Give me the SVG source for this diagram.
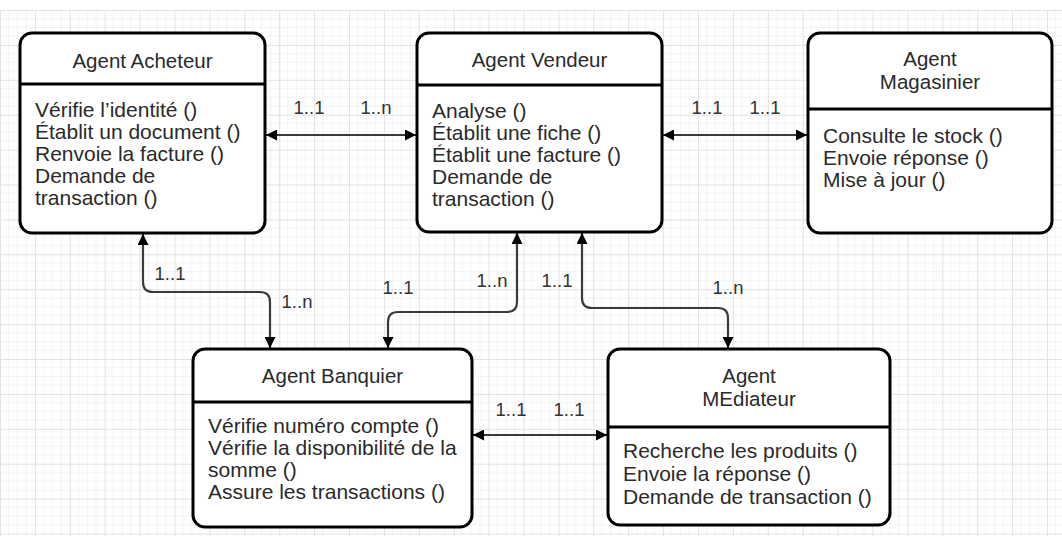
<svg xmlns="http://www.w3.org/2000/svg" width="1062" height="536" viewBox="0 0 1062 536">
<style>
.box{fill:#fff;stroke:#000;stroke-width:3}
.sep{stroke:#000;stroke-width:3}
.t{font-family:"Liberation Sans",Arial,sans-serif;font-size:21px;fill:#2a2a2a}
.tc{text-anchor:middle;font-size:20.5px}
.lbl{font-family:"Liberation Sans",Arial,sans-serif;font-size:18.5px;fill:#333;text-anchor:middle}
.conn{fill:none;stroke:#3a3a3a;stroke-width:2.2;marker-start:url(#arr);marker-end:url(#arr)}
</style>
<defs>
<pattern id="grid" width="34.9" height="34.9" patternUnits="userSpaceOnUse" x="0" y="10">
<path d="M8.7,0V34.9M17.45,0V34.9M26.2,0V34.9M0,8.7H34.9M0,17.45H34.9M0,26.2H34.9" stroke="#f3f3f5" stroke-width="1" fill="none"/>
<path d="M0.5,0V34.9M0,0.5H34.9" stroke="#e2e2e6" stroke-width="1" fill="none"/>
</pattern>
<marker id="arr" viewBox="0 0 10 10" refX="10" refY="5" markerWidth="11" markerHeight="11" markerUnits="userSpaceOnUse" orient="auto-start-reverse">
<path d="M0,0L10,5L0,10z" fill="#000"/>
</marker>
</defs>
<rect width="1062" height="536" fill="#fff"/>
<rect x="0" y="10" width="1062" height="526" fill="url(#grid)"/>

<g id="connectors">
<path class="conn" d="M266,135H416"/>
<path class="conn" d="M663,135H807"/>
<path class="conn" d="M143,234V282Q143,292 153,292H260Q270,292 270,302V348"/>
<path class="conn" d="M517,233V302Q517,312 507,312H398Q388,312 388,322V348"/>
<path class="conn" d="M582,233V298Q582,308 592,308H718Q728,308 728,318V348"/>
<path class="conn" d="M473,435H607"/>
<text class="lbl" x="309" y="114">1..1</text>
<text class="lbl" x="376" y="114">1..n</text>
<text class="lbl" x="707" y="114">1..1</text>
<text class="lbl" x="765" y="114">1..1</text>
<text class="lbl" x="170" y="280">1..1</text>
<text class="lbl" x="297" y="308">1..n</text>
<text class="lbl" x="398" y="294">1..1</text>
<text class="lbl" x="492" y="287">1..n</text>
<text class="lbl" x="557" y="287">1..1</text>
<text class="lbl" x="728" y="294">1..n</text>
<text class="lbl" x="511" y="416">1..1</text>
<text class="lbl" x="569" y="416">1..1</text>
</g>

<g id="acheteur">
<rect class="box" x="20" y="33" width="245" height="200" rx="12"/>
<line class="sep" x1="20" y1="84" x2="265" y2="84"/>
<text class="t tc" x="142.5" y="68">Agent Acheteur</text>
<text class="t" x="35" y="117">Vérifie l’identité ()</text>
<text class="t" x="35" y="139">Établit un document ()</text>
<text class="t" x="35" y="161">Renvoie la facture ()</text>
<text class="t" x="35" y="183">Demande de</text>
<text class="t" x="35" y="205">transaction ()</text>
</g>

<g id="vendeur">
<rect class="box" x="417" y="33" width="245" height="199" rx="12"/>
<line class="sep" x1="417" y1="85" x2="662" y2="85"/>
<text class="t tc" x="539.5" y="67">Agent Vendeur</text>
<text class="t" x="432" y="118">Analyse ()</text>
<text class="t" x="432" y="140">Établit une fiche ()</text>
<text class="t" x="432" y="162">Établit une facture ()</text>
<text class="t" x="432" y="184">Demande de</text>
<text class="t" x="432" y="206">transaction ()</text>
</g>

<g id="magasinier">
<rect class="box" x="808" y="33" width="244" height="200" rx="12"/>
<line class="sep" x1="808" y1="109" x2="1052" y2="109"/>
<text class="t tc" x="930" y="66">Agent</text>
<text class="t tc" x="930" y="89">Magasinier</text>
<text class="t" x="823" y="143">Consulte le stock ()</text>
<text class="t" x="823" y="165">Envoie réponse ()</text>
<text class="t" x="823" y="187">Mise à jour ()</text>
</g>

<g id="banquier">
<rect class="box" x="193" y="349" width="279" height="178" rx="12"/>
<line class="sep" x1="193" y1="402" x2="472" y2="402"/>
<text class="t tc" x="332.5" y="383">Agent Banquier</text>
<text class="t" x="208" y="433">Vérifie numéro compte ()</text>
<text class="t" x="208" y="455">Vérifie la disponibilité de la</text>
<text class="t" x="208" y="477">somme ()</text>
<text class="t" x="208" y="499">Assure les transactions ()</text>
</g>

<g id="mediateur">
<rect class="box" x="608" y="349" width="282" height="176" rx="12"/>
<line class="sep" x1="608" y1="427" x2="890" y2="427"/>
<text class="t tc" x="749" y="383">Agent</text>
<text class="t tc" x="749" y="406">MEdiateur</text>
<text class="t" x="623" y="458">Recherche les produits ()</text>
<text class="t" x="623" y="481">Envoie la réponse ()</text>
<text class="t" x="623" y="504">Demande de transaction ()</text>
</g>
</svg>
